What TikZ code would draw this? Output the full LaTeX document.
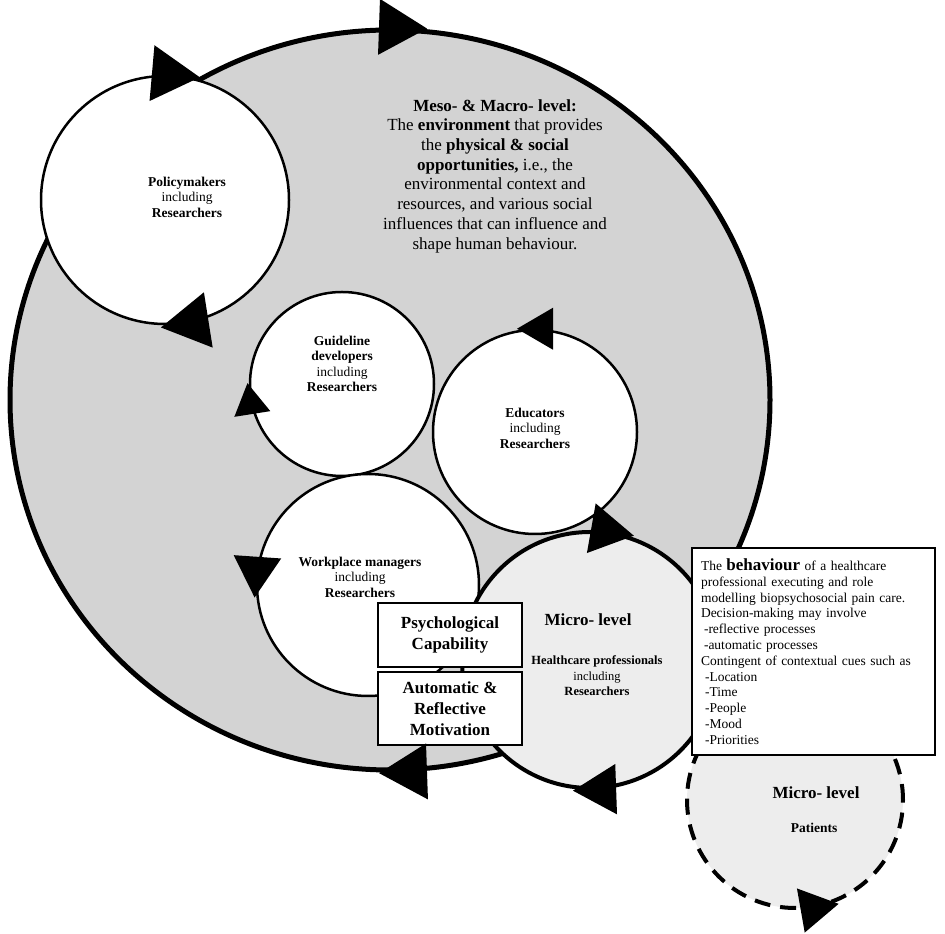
\documentclass[tikz,border=0pt]{standalone}
\usepackage{fontspec}
\setmainfont{Liberation Serif}
\usetikzlibrary{shapes,arrows}

\definecolor{mesogray}{RGB}{211,211,211}
\definecolor{microgray}{RGB}{237,237,237}

\tikzset{
  ring/.style={circle, draw, line width=2.5pt, fill=white, inner sep=0pt},
  lbl/.style={font=\fontsize{13.5}{15.5}\selectfont\bfseries, align=center},
  capbox/.style={draw, line width=2.5pt, fill=white, minimum width=144, align=center, font=\fontsize{17}{21}\selectfont\bfseries},
  flowtip/.pic={\fill (-24,-28) -- (24,0) -- (-24,28) -- cycle;}
}

\begin{document}
\begin{tikzpicture}[x=1pt,y=1pt]
    \useasboundingbox (0,0) rectangle (945,934);

    %Shape: Ellipse [meso- & macro-level]
    \node[ring, ellipse, line width=5pt, fill=mesogray, minimum width=760, minimum height=740] (meso) at (390,534) {};

    %Shape: Circle [policymakers]
    \node[ring, minimum size=248] (policy) at (165,734) {};
    %Shape: Circle [guideline developers]
    \node[ring, minimum size=184] (guide) at (342,550) {};
    %Shape: Circle [educators]
    \node[ring, minimum size=204] (edu) at (535,502) {};
    %Shape: Circle [workplace managers]
    \node[ring, minimum size=222] (work) at (368,349) {};

    %Shape: Circle [micro-level, healthcare professionals]
    \node[ring, line width=4pt, fill=microgray, minimum size=256] (micro) at (590,274) {};
    %Shape: Circle [micro-level, patients]
    \node[ring, line width=4pt, fill=microgray, dash pattern=on 16pt off 10pt, minimum size=216] (patients) at (795,134) {};

    %Shape: Rectangle
    \node[capbox, minimum height=64] (psych) at (450,299) {Psychological\\Capability};
    %Shape: Rectangle
    \node[capbox, minimum height=73] (motiv) at (450,225.5) {Automatic \&\\Reflective\\Motivation};

    %Shape: Rectangle [behaviour]
    \node[draw, line width=2.5pt, fill=white, text width=225, inner sep=9, xshift=2, minimum height=207, align=left, font=\fontsize{13.5}{15.8}\selectfont] (behav) at (811.5,282.5)
      {The {\fontsize{17}{15.8}\selectfont\bfseries behaviour} of a healthcare\\
       professional executing and role\\
       modelling biopsychosocial pain care.\\
       Decision-making may involve\\
       \hspace*{3pt}-reflective processes\\
       \hspace*{3pt}-automatic processes\\
       Contingent of contextual cues such as\\
       \hspace*{4pt}-Location\\
       \hspace*{4pt}-Time\\
       \hspace*{4pt}-People\\
       \hspace*{4pt}-Mood\\
       \hspace*{4pt}-Priorities};

    %Arrow heads
    \pic[rotate=-2] at (meso.88) {flowtip};
    \pic[rotate=182] at (meso.272) {flowtip};
    \pic[rotate=-5] at (policy.85) {flowtip};
    \pic[rotate=189] at (policy.279) {flowtip};
    \pic[rotate=99, scale=0.65] at (guide.189) {flowtip};
    \pic[rotate=180, scale=0.75] at (edu.90) {flowtip};
    \pic[rotate=266, scale=0.85] at (work.176) {flowtip};
    \pic[rotate=-10, scale=0.9] at (micro.80) {flowtip};
    \pic[rotate=182, scale=0.9] at (micro.272) {flowtip};
    \pic[rotate=10, scale=0.8] at (patients.283) {flowtip};

    % Text Node
    \node[font=\fontsize{17}{19.7}\selectfont, align=center] (mesotext) at (495,758)
      {\textbf{Meso- \& Macro- level:}\\The \textbf{environment} that provides\\the \textbf{physical \& social}\\\textbf{opportunities,} i.e., the\\environmental context and\\resources, and various social\\influences that can influence and\\shape human behaviour.};
    % Text Node
    \node[lbl] (policytext) at (187,737) {Policymakers\\{\mdseries including}\\Researchers};
    % Text Node
    \node[lbl] (guidetext) at (342,570) {Guideline\\developers\\{\mdseries including}\\Researchers};
    % Text Node
    \node[lbl] (edutext) at (535,506) {Educators\\{\mdseries including}\\Researchers};
    % Text Node
    \node[lbl] (worktext) at (360,357) {Workplace managers\\{\mdseries including}\\Researchers};
    % Text Node
    \node[font=\fontsize{17}{20}\selectfont\bfseries] (microtitle) at (588,314) {Micro- level};
    % Text Node
    \node[lbl, font=\fontsize{12.5}{15.5}\selectfont\bfseries] (microtext) at (597,258) {Healthcare professionals\\{\mdseries including}\\Researchers};
    % Text Node
    \node[font=\fontsize{17}{20}\selectfont\bfseries] (patienttitle) at (816,141) {Micro- level};
    % Text Node
    \node[lbl] (patienttext) at (814,106) {Patients};

\end{tikzpicture}
\end{document}
